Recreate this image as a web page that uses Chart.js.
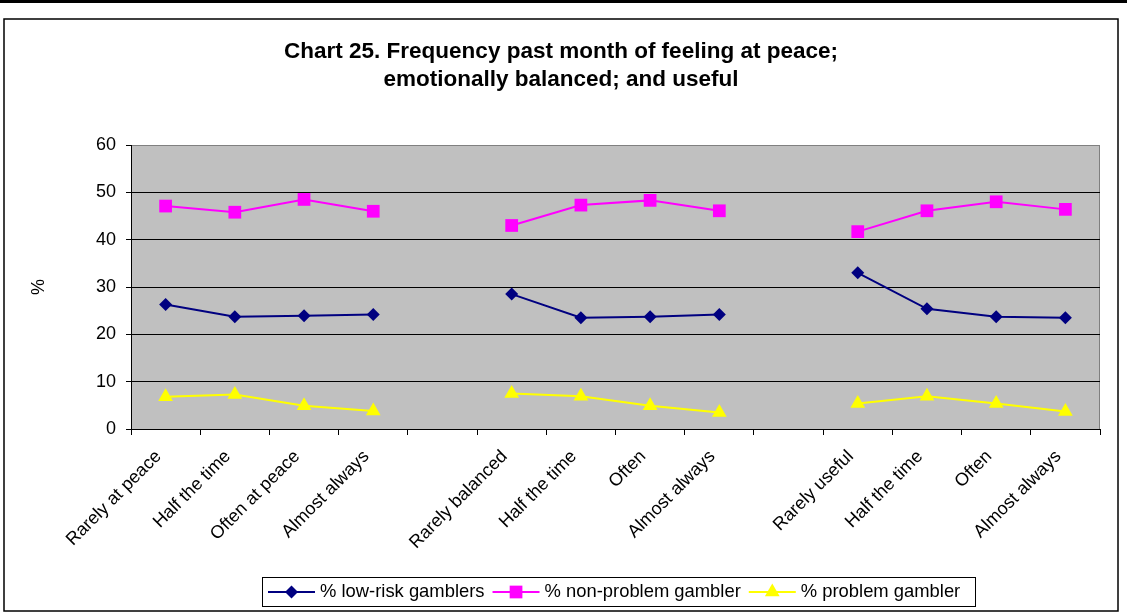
<!DOCTYPE html>
<html>
<head>
<meta charset="utf-8">
<script src="https://cdn.jsdelivr.net/npm/chart.js@4.4.1/dist/chart.umd.min.js"></script>
<style>
  html, body { margin: 0; padding: 0; background: #fff; }
  #wrap { width: 1127px; height: 613px; position: relative; }
</style>
</head>
<body>
<div id="wrap"><canvas id="c" width="1127" height="613"></canvas></div>
<script>
const titleLines = ['Chart 25. Frequency past month of feeling at peace;', 'emotionally balanced; and useful'];
const categories = ['Rarely at peace', 'Half the time', 'Often at peace', 'Almost always', '',
  'Rarely balanced', 'Half the time', 'Often', 'Almost always', '',
  'Rarely useful', 'Half the time', 'Often', 'Almost always'];
const lowRisk    = [26.3, 23.7, 23.9, 24.2, null, 28.5, 23.5, 23.7, 24.2, null, 33.0, 25.4, 23.7, 23.5];
const nonProblem = [47.1, 45.8, 48.5, 46.0, null, 43.0, 47.3, 48.3, 46.1, null, 41.7, 46.1, 48.0, 46.4];
const problem    = [6.8, 7.3, 4.9, 3.8, null, 7.5, 6.9, 4.9, 3.5, null, 5.4, 6.9, 5.4, 3.7];
const seriesNames = ['% low-risk gamblers', '% non-problem gambler', '% problem gambler'];
const yTicks = [0, 10, 20, 30, 40, 50, 60];
const yAxisTitle = '%';

const FONT = "'Liberation Sans', Arial, sans-serif";

function drawMarker(ctx, style, x, y, r, color) {
  ctx.save();
  ctx.fillStyle = color;
  ctx.beginPath();
  if (style === 'rectRot') {
    ctx.moveTo(x, y - r); ctx.lineTo(x + r, y); ctx.lineTo(x, y + r); ctx.lineTo(x - r, y);
  } else if (style === 'rect') {
    const s = r * Math.SQRT1_2;
    ctx.rect(x - s, y - s, 2 * s, 2 * s);
  } else if (style === 'triangle') {
    ctx.moveTo(x, y - r);
    ctx.lineTo(x + r * Math.cos(Math.PI / 6), y + r / 2);
    ctx.lineTo(x - r * Math.cos(Math.PI / 6), y + r / 2);
  }
  ctx.closePath();
  ctx.fill();
  ctx.restore();
}

const framePlugin = {
  id: 'frame',
  beforeDraw(chart) {
    const ctx = chart.ctx;
    const a = chart.chartArea;
    ctx.save();
    ctx.fillStyle = '#fff';
    ctx.fillRect(0, 0, chart.width, chart.height);
    ctx.fillStyle = '#000';
    ctx.fillRect(0, 0, chart.width, 3);
    ctx.strokeStyle = '#000';
    ctx.lineWidth = 1.5;
    ctx.strokeRect(4, 19, 1114, 592);
    ctx.fillStyle = '#c0c0c0';
    ctx.fillRect(a.left, a.top, a.right - a.left, a.bottom - a.top);
    ctx.strokeStyle = '#808080';
    ctx.lineWidth = 1;
    ctx.strokeRect(a.left + 0.5, a.top + 0.5, a.right - a.left - 1, a.bottom - a.top);
    ctx.restore();
  },
  afterDraw(chart) {
    const ctx = chart.ctx;
    ctx.save();
    ctx.fillStyle = '#000';
    ctx.font = 'bold 22.5px ' + FONT;
    ctx.textAlign = 'center';
    ctx.textBaseline = 'middle';
    ctx.fillText(titleLines[0], 561, 52);
    ctx.fillText(titleLines[1], 561, 80);
    ctx.font = '18.4px ' + FONT;
    const lineLen = 47, gapAfterLine = 5, gapItem = 8;
    const boxL = 262, boxR = 975, boxT = 577, boxB = 606;
    ctx.strokeStyle = '#000';
    ctx.lineWidth = 1;
    ctx.strokeRect(boxL + 0.5, boxT + 0.5, boxR - boxL, boxB - boxT);
    let x = 268;
    const cy = (boxT + boxB) / 2 + 0.5;
    chart.data.datasets.forEach(ds => {
      const w = ctx.measureText(ds.label).width;
      ctx.strokeStyle = ds.borderColor;
      ctx.lineWidth = 2;
      ctx.beginPath();
      ctx.moveTo(x, cy); ctx.lineTo(x + lineLen, cy); ctx.stroke();
      drawMarker(ctx, ds.pointStyle, x + lineLen / 2, cy, ds.pointRadius, ds.pointBackgroundColor);
      x += lineLen + gapAfterLine;
      ctx.fillStyle = '#000';
      ctx.textAlign = 'left';
      ctx.textBaseline = 'middle';
      ctx.fillText(ds.label, x, cy);
      x += w + gapItem;
    });
    ctx.restore();
  }
};

const datasets = [
  { label: seriesNames[0], data: lowRisk, borderColor: '#000080', backgroundColor: '#000080',
    pointBackgroundColor: '#000080', pointBorderColor: '#000080', pointStyle: 'rectRot', pointRadius: 6.5 },
  { label: seriesNames[1], data: nonProblem, borderColor: '#ff00ff', backgroundColor: '#ff00ff',
    pointBackgroundColor: '#ff00ff', pointBorderColor: '#ff00ff', pointStyle: 'rect', pointRadius: 9 },
  { label: seriesNames[2], data: problem, borderColor: '#ffff00', backgroundColor: '#ffff00',
    pointBackgroundColor: '#ffff00', pointBorderColor: '#ffff00', pointStyle: 'triangle', pointRadius: 8.5 }
].map(d => Object.assign(d, { borderWidth: 2, pointBorderWidth: 0, pointHoverRadius: d.pointRadius, tension: 0, spanGaps: false }));

new Chart(document.getElementById('c'), {
  type: 'line',
  data: { labels: categories, datasets },
  plugins: [framePlugin],
  options: {
    responsive: false,
    devicePixelRatio: 1,
    animation: false,
    layout: { padding: { left: 20, top: 145, right: 27, bottom: 64 } },
    plugins: { legend: { display: false }, title: { display: false }, tooltip: { enabled: false } },
    scales: {
      x: {
        type: 'category',
        offset: true,
        grid: { offset: true, drawOnChartArea: false, drawTicks: true, tickLength: 6, color: '#000', tickColor: '#000' },
        border: { display: true, color: '#000', width: 1 },
        ticks: { autoSkip: false, maxRotation: 45, minRotation: 45, color: '#000', font: { family: FONT, size: 18 }, padding: 11, labelOffset: -7 },
        afterFit(s) { s.height = 120; }
      },
      y: {
        min: 0, max: 60,
        afterBuildTicks(s) { s.ticks = yTicks.map(v => ({ value: v })); },
        grid: { color: ctx => (ctx.tick && ctx.tick.value === 60 ? '#808080' : '#000'), tickLength: 5, tickColor: '#000', lineWidth: 1 },
        border: { display: true, color: '#000', width: 1 },
        ticks: { color: '#000', font: { family: FONT, size: 18 }, padding: 10 },
        title: { display: true, text: yAxisTitle, color: '#000', font: { family: FONT, size: 18 }, padding: { top: 8, bottom: 0 } },
        afterFit(s) { s.width = 111; }
      }
    }
  }
});
</script>
</body>
</html>
